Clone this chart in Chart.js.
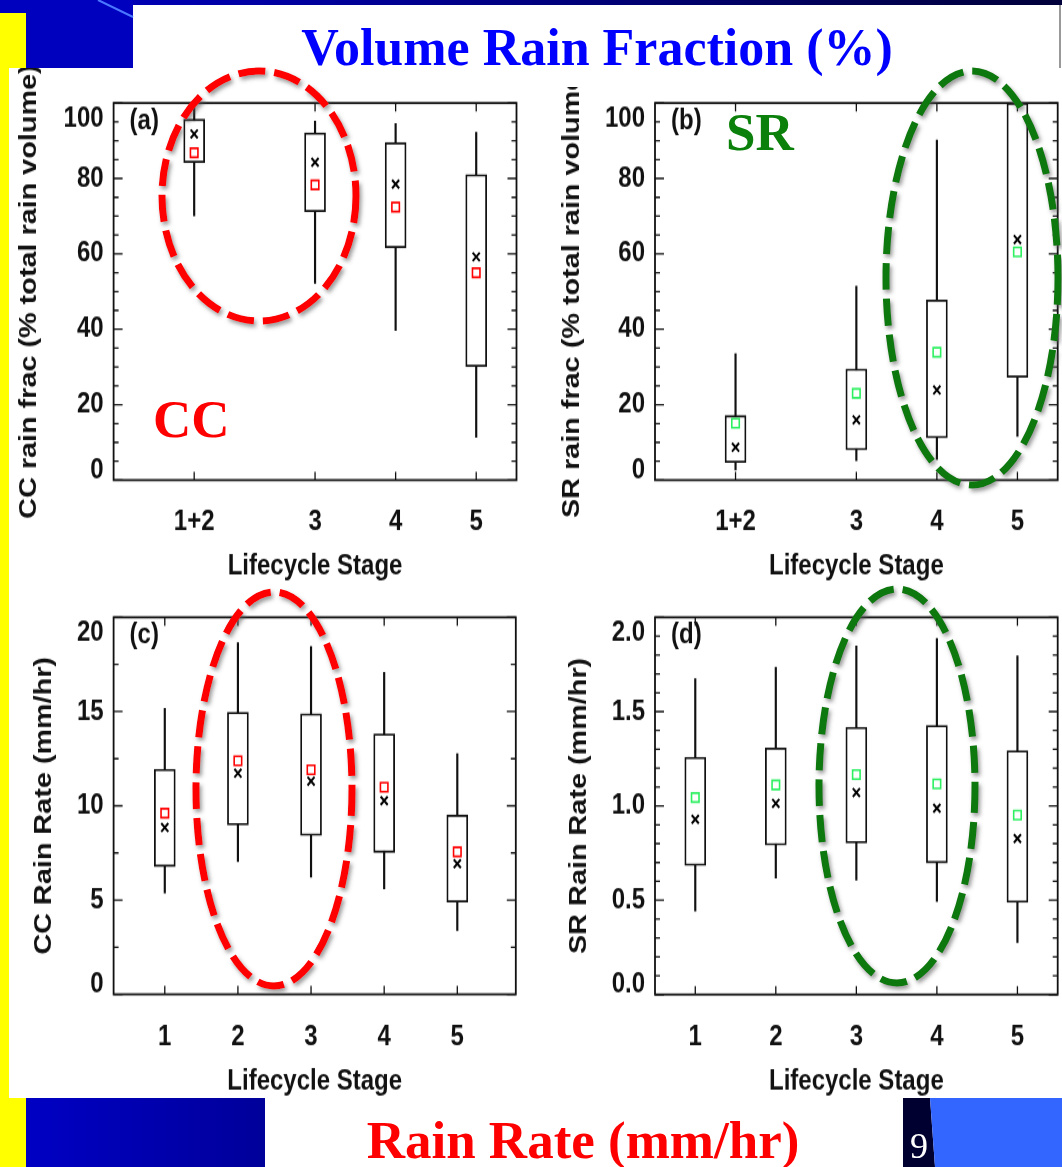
<!DOCTYPE html>
<html>
<head>
<meta charset="utf-8">
<title>Volume Rain Fraction / Rain Rate by Lifecycle Stage</title>
<script src="https://cdn.jsdelivr.net/npm/chart.js@4.4.1/dist/chart.umd.min.js"></script>
<style>
  html, body { margin: 0; padding: 0; background: #fff; }
  #slide { position: relative; width: 1062px; height: 1167px; overflow: hidden; background: #fff; }
  #slide canvas { position: absolute; transform: scaleY(1.2); transform-origin: 0 0; }
  #deco { position: absolute; left: 0; top: 0; }
</style>
</head>
<body>
<div id="slide">
  <canvas id="chartA"></canvas>
  <canvas id="chartB"></canvas>
  <canvas id="chartC"></canvas>
  <canvas id="chartD"></canvas>

  <svg id="deco" width="1062" height="1167" viewBox="0 0 1062 1167" xmlns="http://www.w3.org/2000/svg">
    <defs>
      <linearGradient id="topBand" x1="0" x2="1" y1="0" y2="0">
        <stop offset="0" stop-color="#0000b4"/><stop offset="1" stop-color="#00003a"/>
      </linearGradient>
      <linearGradient id="footBand" x1="0" x2="1" y1="0" y2="0">
        <stop offset="0" stop-color="#0000c4"/><stop offset="1" stop-color="#00009a"/>
      </linearGradient>
      <filter id="shade" x="-15%" y="-15%" width="130%" height="130%">
        <feDropShadow dx="2" dy="3" stdDeviation="2" flood-color="#555" flood-opacity="0.6"/>
      </filter>
    </defs>

    <!-- slide frame -->
    <rect x="133" y="0" width="929" height="5" fill="url(#topBand)"/>
    <rect x="133" y="5" width="929" height="82" fill="#fff"/>
    <line x1="1060" y1="5" x2="1060" y2="68" stroke="#333" stroke-width="1"/>
    <rect x="0" y="0" width="133" height="68" fill="#0000bf"/>
    <line x1="98" y1="0" x2="133" y2="17" stroke="#4a78ff" stroke-width="2"/>
    <rect x="0" y="13" width="26" height="55" fill="#ffff00"/>
    <rect x="0" y="68" width="9" height="1099" fill="#ffff00"/>
    <rect x="0" y="1098" width="26" height="69" fill="#ffff00"/>
    <rect x="26" y="1098" width="239" height="69" fill="url(#footBand)"/>
    <polygon points="903,1098 930,1098 935,1167 903,1167" fill="#000030"/>
    <polygon points="930,1098 1062,1098 1062,1167 935,1167" fill="#3366ff"/>

    <!-- slide text -->
    <g font-family="'Liberation Serif', 'Times New Roman', serif" font-weight="bold">
      <text x="597" y="65" font-size="52" fill="#0000ff" text-anchor="middle">Volume Rain Fraction (%)</text>
      <text x="583" y="1158" font-size="53" fill="#ff0000" text-anchor="middle">Rain Rate (mm/hr)</text>
      <text x="153" y="437" font-size="53" fill="#ff0000">CC</text>
      <text x="726" y="150" font-size="53" fill="#0b800b">SR</text>
    </g>
    <text x="910" y="1158" font-family="'Liberation Serif', 'Times New Roman', serif" font-size="36" fill="#fff">9</text>

    <!-- highlight ellipses -->
    <g fill="none" stroke-width="7" stroke-dasharray="27 9" filter="url(#shade)">
      <ellipse cx="259" cy="196" rx="97" ry="125" stroke="#ff0000"/>
      <ellipse cx="972" cy="278" rx="86" ry="207" stroke="#0a780a"/>
      <ellipse cx="274" cy="789" rx="78" ry="197" stroke="#ff0000"/>
      <ellipse cx="897" cy="786" rx="78" ry="197" stroke="#0a780a"/>
    </g>
  </svg>
</div>

<script>
// ---- (a) / (b): volume rain fraction by lifecycle stage
const fracStages = [1.5, 3, 4, 5];
const fracStageLabels = ['1+2', '3', '4', '5'];
const fracTicks = [0, 20, 40, 60, 80, 100];
const fracTickLabels = ['0', '20', '40', '60', '80', '100'];

const ccFracLow    = [70.1, 52.2, 39.7, 11.4];
const ccFracQ1     = [84.2, 71.2, 61.6, 30.1];
const ccFracQ3     = [95.7, 92.1, 89.5, 81.0];
const ccFracHigh   = [100, 95.2, 94.5, 92.2];
const ccFracCross  = [91.8, 84.3, 78.5, 59.2];
const ccFracSquare = [86.8, 78.3, 72.4, 55.0];

const srFracLow    = [2.7, 5.2, 5.5, 11.6];
const srFracQ1     = [4.7, 8.0, 11.2, 27.3];
const srFracQ3     = [17.1, 29.5, 47.8, 100];
const srFracHigh   = [33.5, 51.4, 90.2, 100];
const srFracCross  = [8.7, 16.0, 23.9, 63.8];
const srFracSquare = [15.1, 23.0, 33.9, 60.5];

// ---- (c) / (d): rain rate by lifecycle stage
const rateStages = [1, 2, 3, 4, 5];
const rateStageLabels = ['1', '2', '3', '4', '5'];
const ccRateTicks = [0, 5, 10, 15, 20];
const ccRateTickLabels = ['0', '5', '10', '15', '20'];
const srRateTicks = [0, 0.5, 1, 1.5, 2];
const srRateTickLabels = ['0.0', '0.5', '1.0', '1.5', '2.0'];

const ccRateLow    = [5.37, 7.05, 6.22, 5.60, 3.39];
const ccRateQ1     = [6.78, 8.98, 8.43, 7.53, 4.89];
const ccRateQ3     = [11.94, 14.96, 14.88, 13.82, 9.51];
const ccRateHigh   = [15.16, 18.66, 18.45, 17.08, 12.76];
const ccRateCross  = [8.85, 11.73, 11.31, 10.27, 6.93];
const ccRateSquare = [9.61, 12.39, 11.91, 10.99, 7.56];

const srRateLow    = [0.443, 0.617, 0.606, 0.493, 0.276];
const srRateQ1     = [0.684, 0.792, 0.804, 0.698, 0.489];
const srRateQ3     = [1.258, 1.307, 1.417, 1.426, 1.293];
const srRateHigh   = [1.675, 1.735, 1.848, 1.887, 1.795];
const srRateCross  = [0.929, 1.014, 1.071, 0.988, 0.827];
const srRateSquare = [1.044, 1.111, 1.166, 1.117, 0.951];

// the figure sits on the slide stretched vertically, canvases are scaled by this
const STRETCH = 1.2;
const FONT = "'Liberation Sans', Arial, Helvetica, sans-serif";
const FS = 24;
const LH = FS * 1.2;

Chart.defaults.font.family = FONT;
Chart.defaults.font.size = FS;
Chart.defaults.font.weight = 'bold';
Chart.defaults.color = '#111';

// IDL-style frame: box, inward ticks on all sides, end labels kept inside the plot
const boxFrame = {
  id: 'boxFrame',
  afterDatasetsDraw(chart, args, o) {
    const { ctx, chartArea: a, scales: { x, y } } = chart;
    ctx.save();
    ctx.strokeStyle = '#111';
    ctx.lineWidth = 1.3;
    ctx.beginPath();
    x.ticks.forEach(t => {
      const px = x.getPixelForValue(t.value);
      ctx.moveTo(px, a.bottom); ctx.lineTo(px, a.bottom - 7);
      ctx.moveTo(px, a.top); ctx.lineTo(px, a.top + 7);
    });
    const n = Math.round((y.max - y.min) / o.minor);
    for (let i = 0; i <= n; i++) {
      const v = y.min + i * o.minor;
      const r = v / o.major;
      const len = Math.abs(r - Math.round(r)) < 1e-6 ? 9 : 5;
      const py = y.getPixelForValue(v);
      ctx.moveTo(a.left, py); ctx.lineTo(a.left + len, py);
      ctx.moveTo(a.right, py); ctx.lineTo(a.right - len, py);
    }
    ctx.stroke();
    ctx.lineWidth = 1.8;
    ctx.strokeRect(a.left, a.top, a.right - a.left, a.bottom - a.top);

    ctx.fillStyle = '#111';
    ctx.font = `bold ${FS}px ${FONT}`;
    ctx.textAlign = 'right';
    ctx.textBaseline = 'middle';
    y.ticks.forEach((t, i) => {
      let py = y.getPixelForValue(t.value);
      py = Math.min(Math.max(py, a.top + 13), a.bottom - 8);
      ctx.fillText(o.labels[i], a.left - 10, py);
    });
    ctx.textAlign = 'left';
    ctx.fillText(o.tag, a.left + 16, a.top + 15);
    ctx.restore();
  }
};

function makeChart(id, lay, p) {
  const cv = document.getElementById(id);
  const H = lay.height / STRETCH;
  cv.width = lay.width;
  cv.height = H;
  cv.style.left = lay.left + 'px';
  cv.style.top = lay.top + 'px';

  const toIn = v => (v - lay.top) / STRETCH;
  const padL = lay.yTitleX - lay.left - LH / 2;
  const yAxisW = lay.L - lay.left - padL;
  const bottomIn = toIn(lay.B);
  const tickPad = toIn(lay.xTickY) - bottomIn - LH / 2;
  const xAxisH = toIn(lay.xTitleY) + LH / 2 - bottomIn;

  return new Chart(cv, {
    type: 'bar',
    data: {
      datasets: [
        {
          type: 'scatter',
          data: p.pos.map((x, i) => ({ x, y: p.cross[i] })),
          pointStyle: 'crossRot',
          pointRadius: 5,
          pointBorderWidth: 2,
          pointBorderColor: '#000',
          order: 0
        },
        {
          type: 'scatter',
          data: p.pos.map((x, i) => ({ x, y: p.square[i] })),
          pointStyle: 'rect',
          pointRadius: 5.3,
          pointBorderWidth: 1.6,
          pointBorderColor: p.color,
          pointBackgroundColor: 'rgba(0,0,0,0)',
          order: 1
        },
        {
          data: p.pos.map((x, i) => ({ x, y: [p.q1[i], p.q3[i]] })),
          backgroundColor: '#fff',
          borderColor: '#111',
          borderWidth: 1.8,
          borderSkipped: false,
          barThickness: 21,
          maxBarThickness: 21,
          grouped: false,
          order: 2
        },
        {
          data: p.pos.map((x, i) => ({ x, y: [p.low[i], p.high[i]] })),
          backgroundColor: '#111',
          borderWidth: 0,
          barThickness: 1.5,
          maxBarThickness: 1.5,
          grouped: false,
          order: 3
        }
      ]
    },
    options: {
      responsive: false,
      animation: false,
      devicePixelRatio: 1,
      events: [],
      layout: {
        autoPadding: false,
        padding: {
          left: padL,
          right: lay.left + lay.width - lay.R,
          top: toIn(lay.T),
          bottom: H - bottomIn - xAxisH
        }
      },
      plugins: {
        legend: { display: false },
        tooltip: { enabled: false },
        boxFrame: { labels: p.yLabels, major: p.major, minor: p.minor, tag: p.tag }
      },
      scales: {
        x: {
          type: 'linear',
          min: p.xMin,
          max: p.xMax,
          offset: false,
          grid: { display: false, drawTicks: false, offset: false },
          border: { display: false },
          afterBuildTicks: s => { s.ticks = p.pos.map(v => ({ value: v })); },
          ticks: {
            autoSkip: false, maxRotation: 0, minRotation: 0,
            padding: tickPad,
            callback: (v, i) => p.xLabels[i]
          },
          title: { display: true, text: 'Lifecycle Stage', padding: 0 },
          afterFit: s => { s.height = xAxisH; }
        },
        y: {
          type: 'linear',
          min: p.yMin,
          max: p.yMax,
          grid: { display: false, drawTicks: false },
          border: { display: false },
          afterBuildTicks: s => { s.ticks = p.yTicks.map(v => ({ value: v })); },
          ticks: { display: false },
          title: { display: true, text: p.yTitle, padding: 0 },
          afterFit: s => { s.width = yAxisW; }
        }
      }
    },
    plugins: [boxFrame]
  });
}

makeChart('chartA',
  { left: 0, top: 62, width: 540, height: 540, L: 113.6, T: 103, R: 516.5, B: 480.1, yTitleX: 29, xTickY: 522.5, xTitleY: 566 },
  { tag: '(a)', yTitle: 'CC rain frac (% total rain volume)', color: '#ff0000',
    pos: fracStages, xLabels: fracStageLabels, xMin: 0.5, xMax: 5.5,
    yMin: 0, yMax: 100, yTicks: fracTicks, yLabels: fracTickLabels, major: 20, minor: 5,
    low: ccFracLow, q1: ccFracQ1, q3: ccFracQ3, high: ccFracHigh, cross: ccFracCross, square: ccFracSquare });

makeChart('chartB',
  { left: 540, top: 62, width: 522, height: 540, L: 655, T: 103, R: 1057.7, B: 480.1, yTitleX: 572, xTickY: 522.5, xTitleY: 566 },
  { tag: '(b)', yTitle: 'SR rain frac (% total rain volume)', color: '#2cf060',
    pos: fracStages, xLabels: fracStageLabels, xMin: 0.5, xMax: 5.5,
    yMin: 0, yMax: 100, yTicks: fracTicks, yLabels: fracTickLabels, major: 20, minor: 5,
    low: srFracLow, q1: srFracQ1, q3: srFracQ3, high: srFracHigh, cross: srFracCross, square: srFracSquare });

makeChart('chartC',
  { left: 0, top: 582, width: 540, height: 522, L: 113.6, T: 617.3, R: 515.8, B: 994.3, yTitleX: 44, xTickY: 1036.7, xTitleY: 1081.7 },
  { tag: '(c)', yTitle: 'CC Rain Rate (mm/hr)', color: '#ff0000',
    pos: rateStages, xLabels: rateStageLabels, xMin: 0.3, xMax: 5.8,
    yMin: 0, yMax: 20, yTicks: ccRateTicks, yLabels: ccRateTickLabels, major: 5, minor: 2.5,
    low: ccRateLow, q1: ccRateQ1, q3: ccRateQ3, high: ccRateHigh, cross: ccRateCross, square: ccRateSquare });

makeChart('chartD',
  { left: 540, top: 582, width: 522, height: 522, L: 655, T: 617.3, R: 1057.7, B: 994.5, yTitleX: 579, xTickY: 1036.7, xTitleY: 1081.7 },
  { tag: '(d)', yTitle: 'SR Rain Rate (mm/hr)', color: '#2cf060',
    pos: rateStages, xLabels: rateStageLabels, xMin: 0.5, xMax: 5.5,
    yMin: 0, yMax: 2, yTicks: srRateTicks, yLabels: srRateTickLabels, major: 0.5, minor: 0.1,
    low: srRateLow, q1: srRateQ1, q3: srRateQ3, high: srRateHigh, cross: srRateCross, square: srRateSquare });
</script>
</body>
</html>
